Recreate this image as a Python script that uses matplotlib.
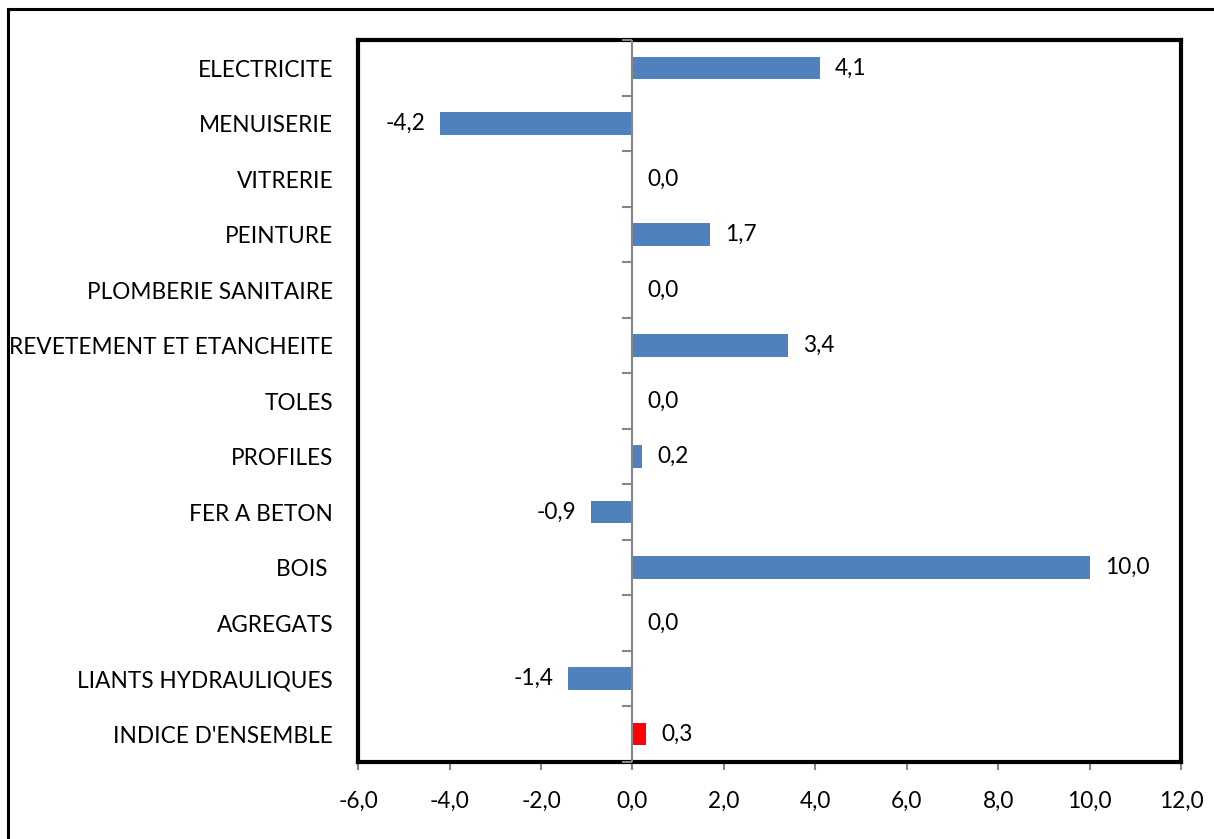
import matplotlib.pyplot as plt
from matplotlib.lines import Line2D

# data (top to bottom as displayed)
categories = ['ELECTRICITE', 'MENUISERIE', 'VITRERIE', 'PEINTURE',
              'PLOMBERIE SANITAIRE', 'REVETEMENT ET ETANCHEITE', 'TOLES',
              'PROFILES', 'FER A BETON', 'BOIS ', 'AGREGATS',
              'LIANTS HYDRAULIQUES', "INDICE D'ENSEMBLE"]
values = [4.1, -4.2, 0.0, 1.7, 0.0, 3.4, 0.0, 0.2, -0.9, 10.0, 0.0, -1.4, 0.3]
colors = ['#4F81BD'] * 12 + ['#FF0000']
xticks = [-6, -4, -2, 0, 2, 4, 6, 8, 10, 12]

plt.rcParams['font.family'] = ['Lato', 'DejaVu Sans']
FS = 16.3

fig = plt.figure(figsize=(12.14, 8.39), dpi=100)
ax = fig.add_axes([0.295, 0.092, 0.678, 0.860])

n = len(categories)
ypos = list(range(n - 1, -1, -1))
ax.barh(ypos, values, height=0.4, color=colors, zorder=2)

# value labels
for y, v in zip(ypos, values):
    txt = f'{v:.1f}'.replace('.', ',')
    if v < 0:
        ax.annotate(txt, (v, y), xytext=(-11, 0), textcoords='offset points',
                    ha='right', va='center', fontsize=FS)
    else:
        ax.annotate(txt, (v, y), xytext=(11, 0), textcoords='offset points',
                    ha='left', va='center', fontsize=FS)

ax.set_xlim(-6, 12)
ax.set_ylim(-0.5, n - 0.5)
ax.set_xticks(xticks)
ax.set_xticklabels([f'{t:.1f}'.replace('.', ',') for t in xticks], fontsize=FS)
ax.set_yticks(ypos)
ax.set_yticklabels(categories, fontsize=FS)

ax.tick_params(axis='y', length=0, pad=18)
ax.tick_params(axis='x', direction='out', length=6, width=1.5,
               color='#868686', pad=15)

# vertical zero axis with boundary ticks
ax.axvline(0, color='#868686', lw=1.5, zorder=3)
bounds = [i - 0.5 for i in range(n + 1)]
ax.plot([0] * len(bounds), bounds, linestyle='none', marker=0,
        markersize=7, markeredgewidth=1.5, color='#868686', zorder=3,
        clip_on=False)

for s in ax.spines.values():
    s.set_linewidth(3.0)
    s.set_color('black')

# outer frame lines (left and top)
fig.add_artist(Line2D([0.0066, 0.0066], [0, 0.989], color='black', lw=2.2))
fig.add_artist(Line2D([0.0066, 1.0], [0.989, 0.989], color='black', lw=2.2))

fig.savefig('out.png', dpi=100)
